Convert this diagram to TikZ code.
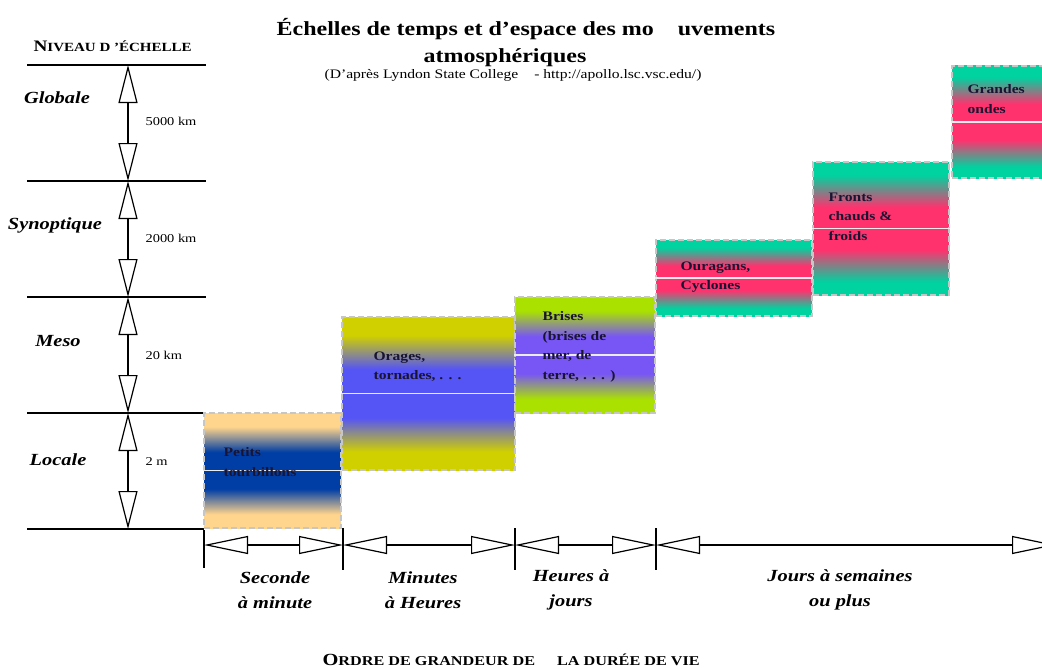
\documentclass[tikz,border=0pt]{standalone}
\usepackage{fontspec}
\setmainfont{Liberation Serif}[FakeStretch=1.2]
\usepackage{tikz}
\usetikzlibrary{arrows.meta}
\usetikzlibrary{positioning}
\definecolor{petitsout}{RGB}{255,212,140}
\definecolor{petitsin}{RGB}{0,62,165}
\definecolor{oragesout}{RGB}{208,208,0}
\definecolor{oragesin}{RGB}{85,85,245}
\definecolor{brisesout}{RGB}{170,225,0}
\definecolor{brisesin}{RGB}{120,85,245}
\definecolor{tealband}{RGB}{0,210,160}
\definecolor{pinkband}{RGB}{255,50,110}
\definecolor{boxink}{RGB}{25,20,50}
\pgfdeclareverticalshading{petitsshade}{100bp}{color(0bp)=(petitsout); color(31bp)=(petitsout); color(42bp)=(petitsin); color(58bp)=(petitsin); color(69bp)=(petitsout); color(100bp)=(petitsout)}
\pgfdeclareverticalshading{oragesshade}{100bp}{color(0bp)=(oragesout); color(31bp)=(oragesout); color(42bp)=(oragesin); color(58bp)=(oragesin); color(69bp)=(oragesout); color(100bp)=(oragesout)}
\pgfdeclareverticalshading{brisesshade}{100bp}{color(0bp)=(brisesout); color(31bp)=(brisesout); color(42bp)=(brisesin); color(58bp)=(brisesin); color(69bp)=(brisesout); color(100bp)=(brisesout)}
\pgfdeclareverticalshading{ventshade}{100bp}{color(0bp)=(tealband); color(30bp)=(tealband); color(42bp)=(pinkband); color(58bp)=(pinkband); color(70bp)=(tealband); color(100bp)=(tealband)}
\tikzstyle{level}=[inner sep=0mm,font=\bfseries\itshape\fontsize{17}{17}\selectfont]
\tikzstyle{dist}=[anchor=west,inner sep=0mm,font=\fontsize{12}{12}\selectfont]
\tikzstyle{period}=[align=center,inner sep=0mm,font=\bfseries\itshape\fontsize{17}{25}\selectfont]
\tikzstyle{phen}=[rectangle,draw=gray!45,dash pattern=on 6pt off 3pt,line width=1.5,inner sep=0mm]
\tikzstyle{phentext}=[anchor=north west,align=left,inner sep=0mm,text=boxink,font=\bfseries\fontsize{13}{19.5}\selectfont]
\tikzstyle{midline}=[white!85!gray,line width=1.5]
\tikzstyle{vdim}=[{Triangle[open,length=38pt,width=19pt]}-{Triangle[open,length=38pt,width=19pt]}]
\tikzstyle{hdim}=[{Triangle[open,length=44pt,width=18pt]}-{Triangle[open,length=44pt,width=18pt]}]
\tikzset{every picture/.style={
    line width=1.2
  }
}

\begin{document}
\begin{tikzpicture}[x=1pt,y=-1pt]
        \path[use as bounding box,fill=white] (0,0) rectangle (1042,669);
        % titre
        \node[anchor=base west,inner sep=0mm,font=\bfseries\fontsize{20}{20}\selectfont] at (276,36) (title) {Échelles de temps et d’espace des mo\hspace{24pt}uvements};
        \node[anchor=base,inner sep=0mm,font=\bfseries\fontsize{20}{20}\selectfont] at (505,63) (title2) {atmosphériques};
        \node[anchor=base west,inner sep=0mm,font=\fontsize{13}{13}\selectfont] at (324,78) (source) {(D’après Lyndon State College\hspace{16pt}- http://apollo.lsc.vsc.edu/)};
        % echelle spatiale
        \node[anchor=base west,inner sep=0mm,font=\bfseries] at (33,52) (niveau) {{\fontsize{16}{16}\selectfont N}{\fontsize{12.5}{12.5}\selectfont IVEAU D ’ÉCHELLE}};
        \coordinate (l0) at (27,65);
        \coordinate (r0) at (206,65);
        \coordinate (l1) at (27,181);
        \coordinate (r1) at (206,181);
        \coordinate (l2) at (27,297);
        \coordinate (r2) at (206,297);
        \coordinate (l3) at (27,413);
        \coordinate (r3) at (206,413);
        \coordinate (l4) at (27,529);
        \coordinate (r4) at (204,529);
        \draw (l0) -- (r0);
        \draw (l1) -- (r1);
        \draw (l2) -- (r2);
        \draw (l3) -- (r3);
        \draw (l4) -- (r4);
        \coordinate (v0) at (128,65);
        \coordinate (v1) at (128,181);
        \coordinate (v2) at (128,297);
        \coordinate (v3) at (128,413);
        \coordinate (v4) at (128,529);
        \draw[vdim] (v0) -- (v1);
        \draw[vdim] (v1) -- (v2);
        \draw[vdim] (v2) -- (v3);
        \draw[vdim] (v3) -- (v4);
        \node[level] at (57,98) (globale) {Globale};
        \node[level] at (55,225) (synoptique) {Synoptique};
        \node[level] at (58,341) (meso) {Meso};
        \node[level] at (58,460) (locale) {Locale};
        \node[dist] at (145,121) (d5000) {5000 km};
        \node[dist] at (145,238) (d2000) {2000 km};
        \node[dist] at (145,355) (d20) {20 km};
        \node[dist] at (145,462) (d2) {2 m};
        % phenomenes
        \node[phen,minimum width=137pt,minimum height=115pt,shading=petitsshade] at (272.5,470.5) (petits) {};
        \draw[midline] (petits.west) -- (petits.east);
        \node[phentext] at (223,447) (petitst) {Petits\\tourbillons};
        \node[phen,minimum width=173pt,minimum height=153pt,shading=oragesshade] at (428.5,393.5) (orages) {};
        \draw[midline] (orages.west) -- (orages.east);
        \node[phentext] at (373,351) (oragest) {Orages,\\tornades, . . .};
        \node[phen,minimum width=140pt,minimum height=116pt,shading=brisesshade] at (585,355) (brises) {};
        \draw[midline] (brises.west) -- (brises.east);
        \node[phentext] at (542,311) (brisest) {Brises\\(brises de\\mer, de\\terre, . . . )};
        \node[phen,minimum width=156pt,minimum height=76pt,shading=ventshade] at (734,278) (ouragans) {};
        \draw[midline] (ouragans.west) -- (ouragans.east);
        \node[phentext] at (680,261) (ouraganst) {Ouragans,\\Cyclones};
        \node[phen,minimum width=136pt,minimum height=133pt,shading=ventshade] at (881,228.5) (fronts) {};
        \draw[midline] (fronts.west) -- (fronts.east);
        \node[phentext] at (828,192) (frontst) {Fronts\\chauds \&\\froids};
        \node[phen,minimum width=148pt,minimum height=112pt,shading=ventshade] at (1026,122) (ondes) {};
        \draw[midline] (ondes.west) -- (ondes.east);
        \node[phentext] at (967,84) (ondest) {Grandes\\ondes};
        % echelle temporelle
        \coordinate (t0) at (204,545);
        \coordinate (t1) at (343,545);
        \coordinate (t2) at (515,545);
        \coordinate (t3) at (656,545);
        \coordinate (t4) at (1056,545);
        \draw (t0) ++(0,-15) -- ++(0,38);
        \draw (t1) ++(0,-17) -- ++(0,42);
        \draw (t2) ++(0,-17) -- ++(0,42);
        \draw (t3) ++(0,-17) -- ++(0,42);
        \draw[hdim] (t0) -- (t1);
        \draw[hdim] (t1) -- (t2);
        \draw[hdim] (t2) -- (t3);
        \draw[hdim] (t3) -- (t4);
        \node[period] at (275,590) (seconde) {Seconde\\à minute};
        \node[period] at (423,590) (minutes) {Minutes\\à Heures};
        \node[period] at (571,590) (heures) {Heures à\\jours};
        \node[period] at (840,590) (jours) {Jours à semaines\\ou plus};
        \node[anchor=base west,inner sep=0mm,font=\bfseries] at (322,665) (duree) {{\fontsize{17}{17}\selectfont O}{\fontsize{13.5}{13.5}\selectfont RDRE DE GRANDEUR DE\hspace{22pt}LA DURÉE DE VIE}};
      \end{tikzpicture}
\end{document}
